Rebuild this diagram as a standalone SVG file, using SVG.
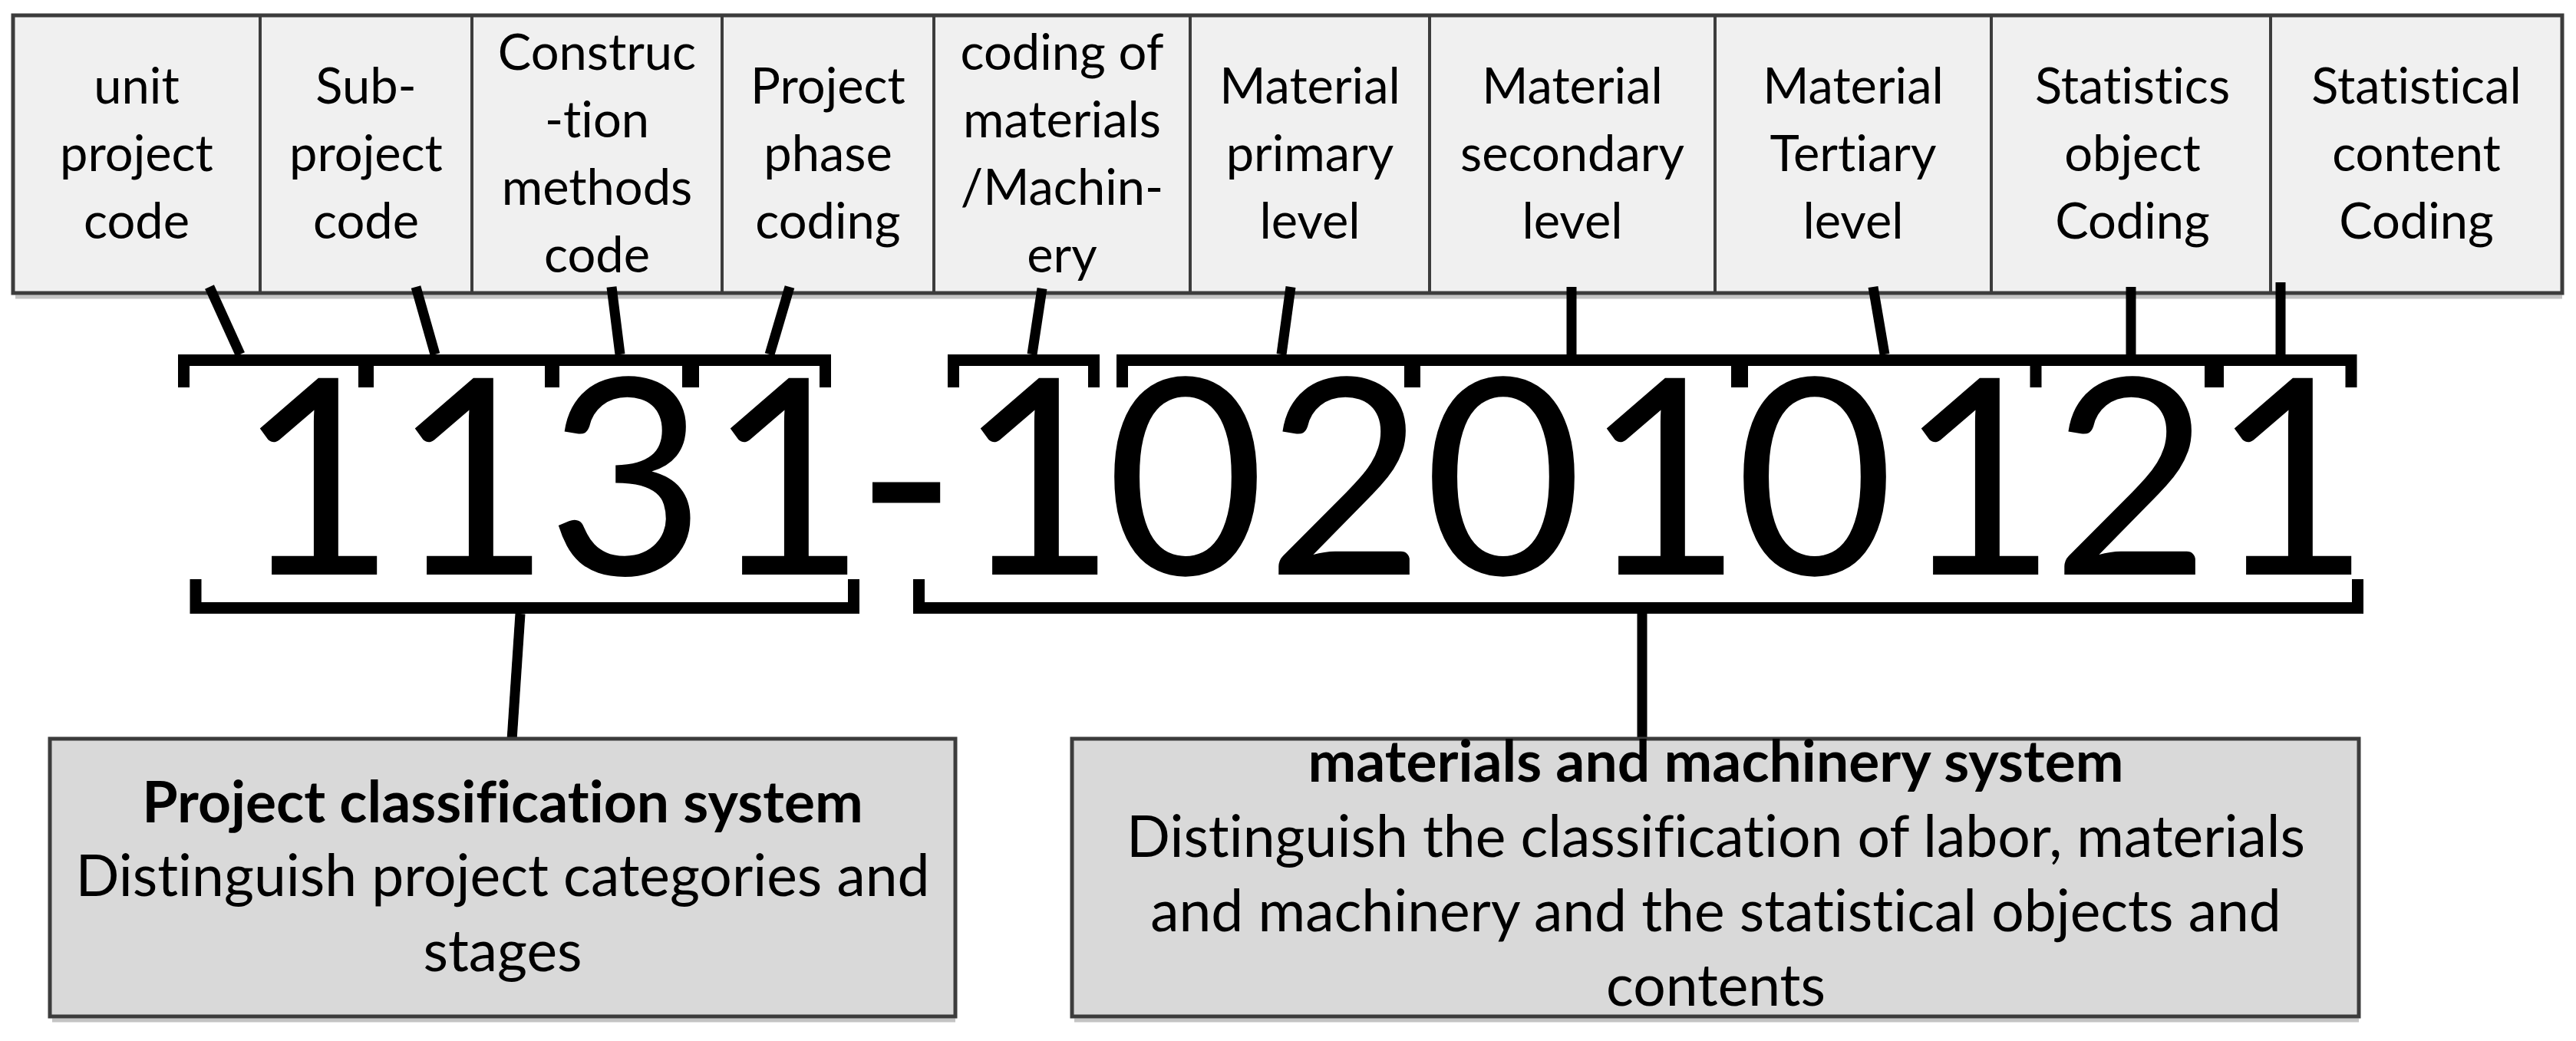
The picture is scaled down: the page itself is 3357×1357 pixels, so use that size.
<svg xmlns="http://www.w3.org/2000/svg" width="3357" height="1357" viewBox="0 0 3357 1357">
<style>
.cell{fill:#f0f0f0;stroke:#3c3c3c;stroke-width:5}
.div{stroke:#3c3c3c;stroke-width:4}
.sys{fill:#d9d9d9;stroke:#3c3c3c;stroke-width:5}
.shadow{stroke:#c4c4c4;stroke-width:5}
.t,.b{font-family:Lato,"Open Sans","Liberation Sans",sans-serif;fill:#000;text-anchor:middle;font-variant-ligatures:none;font-feature-settings:"liga" 0,"clig" 0,"dlig" 0,"calt" 0}
.t{font-size:65px}
.b{font-size:75px}
.bb{font-weight:bold}
.code{font-family:Lato,"Open Sans","Liberation Sans",sans-serif;font-size:357px;fill:#000;text-anchor:middle}
.con{stroke:#000;stroke-width:13;fill:none}
.br{stroke:#000;stroke-width:15;fill:none;stroke-linejoin:miter}
</style>
<rect width="3357" height="1357" fill="#fff"/>
<g id="header-row">
<line class="shadow" x1="20" y1="387" x2="3339" y2="387"/>
<rect class="cell" x="17" y="20" width="3322" height="362"/>
</g>
<g id="node-unit-project">
<text class="t"><tspan x="178" y="135">unit</tspan><tspan x="178" y="223">project</tspan><tspan x="178" y="311">code</tspan></text>
</g>
<g id="node-sub-project">
<line class="div" x1="339" y1="20" x2="339" y2="382"/>
<text class="t"><tspan x="477" y="135">Sub-</tspan><tspan x="477" y="223">project</tspan><tspan x="477" y="311">code</tspan></text>
</g>
<g id="node-construction">
<line class="div" x1="615" y1="20" x2="615" y2="382"/>
<text class="t"><tspan x="778" y="91">Construc</tspan><tspan x="778" y="179">-tion</tspan><tspan x="778" y="267">methods</tspan><tspan x="778" y="355">code</tspan></text>
</g>
<g id="node-phase">
<line class="div" x1="941" y1="20" x2="941" y2="382"/>
<text class="t"><tspan x="1079" y="135">Project</tspan><tspan x="1079" y="223">phase</tspan><tspan x="1079" y="311">coding</tspan></text>
</g>
<g id="node-materials-machinery">
<line class="div" x1="1217" y1="20" x2="1217" y2="382"/>
<text class="t"><tspan x="1384" y="91">coding of</tspan><tspan x="1384" y="179">materials</tspan><tspan x="1384" y="267">/Machin-</tspan><tspan x="1384" y="355">ery</tspan></text>
</g>
<g id="node-primary">
<line class="div" x1="1551" y1="20" x2="1551" y2="382"/>
<text class="t"><tspan x="1707" y="135">Material</tspan><tspan x="1707" y="223">primary</tspan><tspan x="1707" y="311">level</tspan></text>
</g>
<g id="node-secondary">
<line class="div" x1="1863" y1="20" x2="1863" y2="382"/>
<text class="t"><tspan x="2049" y="135">Material</tspan><tspan x="2049" y="223">secondary</tspan><tspan x="2049" y="311">level</tspan></text>
</g>
<g id="node-tertiary">
<line class="div" x1="2235" y1="20" x2="2235" y2="382"/>
<text class="t"><tspan x="2415" y="135">Material</tspan><tspan x="2415" y="223">Tertiary</tspan><tspan x="2415" y="311">level</tspan></text>
</g>
<g id="node-stat-object">
<line class="div" x1="2595" y1="20" x2="2595" y2="382"/>
<text class="t"><tspan x="2779" y="135">Statistics</tspan><tspan x="2779" y="223">object</tspan><tspan x="2779" y="311">Coding</tspan></text>
</g>
<g id="node-stat-content">
<line class="div" x1="2959" y1="20" x2="2959" y2="382"/>
<text class="t"><tspan x="3149" y="135">Statistical</tspan><tspan x="3149" y="223">content</tspan><tspan x="3149" y="311">Coding</tspan></text>
</g>
<g id="node-code">
<text class="code" y="749" x="413 615 816 1026 1181 1352 1545 1753 1959 2168 2365 2578 2777 2986">1131-102010121</text>
</g>
<g id="brackets">
<path class="br" d="M239.5,505 V469.5 H1075.5 V505"/>
<line class="br" x1="477" y1="469" x2="477" y2="505" style="stroke-width:20"/>
<line class="br" x1="719.5" y1="469" x2="719.5" y2="505" style="stroke-width:19"/>
<line class="br" x1="900" y1="469" x2="900" y2="505" style="stroke-width:22"/>
<path class="br" d="M1242.5,505 V469.5 H1425.5 V505"/>
<path class="br" d="M1462.5,505 V469.5 H3064 V505"/>
<line class="br" x1="1840.5" y1="469" x2="1840.5" y2="505" style="stroke-width:21"/>
<line class="br" x1="2267" y1="469" x2="2267" y2="505" style="stroke-width:22"/>
<line class="br" x1="2653" y1="469" x2="2653" y2="505" style="stroke-width:15"/>
<line class="br" x1="2885.5" y1="469" x2="2885.5" y2="505" style="stroke-width:25"/>
<path class="br" d="M255,755 V792.5 H1112.5 V755"/>
<path class="br" d="M1197.5,755 V792.5 H3072.5 V755"/>
</g>
<g id="connectors">
<line class="con" x1="273" y1="374" x2="313" y2="462"/>
<line class="con" x1="542" y1="374" x2="567" y2="462"/>
<line class="con" x1="797" y1="374" x2="808" y2="462"/>
<line class="con" x1="1029" y1="374" x2="1003" y2="462"/>
<line class="con" x1="1358" y1="376" x2="1345" y2="462"/>
<line class="con" x1="1682" y1="374" x2="1670" y2="462"/>
<line class="con" x1="2048" y1="374" x2="2048" y2="462"/>
<line class="con" x1="2441" y1="374" x2="2456" y2="462"/>
<line class="con" x1="2777" y1="374" x2="2777" y2="462"/>
<line class="con" x1="2972" y1="368" x2="2972" y2="462"/>
<line class="con" x1="678" y1="800" x2="667" y2="965"/>
<line class="con" x1="2140" y1="800" x2="2140" y2="965"/>
</g>
<g id="node-project-system">
<line class="shadow" x1="68" y1="1330" x2="1245" y2="1330"/>
<rect class="sys" x="65" y="963" width="1180" height="362"/>
<text class="b"><tspan class="bb" x="655" y="1072">Project classification system</tspan><tspan x="655" y="1168">Distinguish project categories and</tspan><tspan x="655" y="1266">stages</tspan></text>
</g>
<g id="node-materials-system">
<line class="shadow" x1="1400" y1="1330" x2="3074" y2="1330"/>
<rect class="sys" x="1397" y="963" width="1677" height="362"/>
<text class="b"><tspan class="bb" x="2236" y="1019">materials and machinery system</tspan><tspan x="2236" y="1117">Distinguish the classification of labor, materials</tspan><tspan x="2236" y="1214">and machinery and the statistical objects and</tspan><tspan x="2236" y="1311">contents</tspan></text>
</g>
</svg>
